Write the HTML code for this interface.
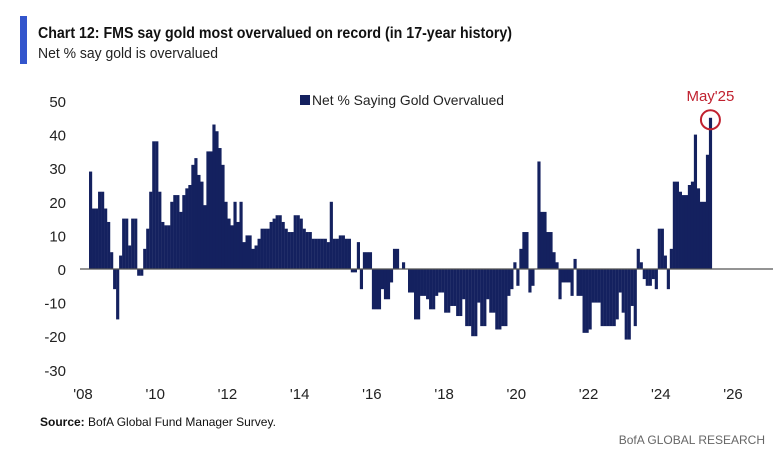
<!DOCTYPE html>
<html><head><meta charset="utf-8"><style>
html,body{margin:0;padding:0;background:#fff;}
svg{display:block;font-family:"Liberation Sans",sans-serif;}
</style></head><body>
<svg id="chart" width="783" height="452" viewBox="0 0 783 452" xmlns="http://www.w3.org/2000/svg">
<rect x="20" y="16" width="7" height="48" fill="#3355cc"/>
<text x="38" y="38" font-size="16" font-weight="bold" fill="#111" textLength="474" lengthAdjust="spacingAndGlyphs">Chart 12: FMS say gold most overvalued on record (in 17-year history)</text>
<text x="38" y="58" font-size="15" fill="#222" textLength="180" lengthAdjust="spacingAndGlyphs">Net % say gold is overvalued</text>
<rect x="300" y="95" width="10" height="10" fill="#14215f"/>
<text x="312" y="105" font-size="14" fill="#222" textLength="192" lengthAdjust="spacingAndGlyphs">Net % Saying Gold Overvalued</text>
<g id="yaxis"></g>
<g id="xaxis"></g>
<g id="bars"></g>
<line x1="80" x2="773" y1="269" y2="269" stroke="#555" stroke-width="1.3"/>
<g id="annot"></g>
<text x="40" y="426" font-size="12" fill="#111"><tspan font-weight="bold">Source:</tspan> BofA Global Fund Manager Survey.</text>
<text x="765" y="444" font-size="12" fill="#666" text-anchor="end">BofA GLOBAL RESEARCH</text>
</svg>
<script>
const values2008to2012 = [29,18,18,23,23,18,14,5,-6,-15,4,15,15,7,15,15,-2,-2,6,12,23,38,38,23,14,13,13,20,22,22,17,22,24,25,31,33,28,26,19,35,35,43,41,36,31,20,15,13,20,14,20,8,10,10,6,7];
const values2012to2015 = [9,12,12,12,14,15,16,16,14,12,11,11,16,16,15,12,11,11,9,9,9,9,9,8,20,9,9,10,10,9];
const values2015to2017 = [9,-1,-1,8,-6,5,5,5,-12,-12,-12,-6,-9,-9,-4,6,6,0,2,0,-7,-7,-15,-15,-8,-8,-9,-12,-12,-8,-7];
const values2017to2020 = [-7,-13,-13,-11,-11,-14,-14,-9,-17,-17,-20,-20,-10,-17,-17,-9,-13,-13,-18,-18,-17,-17,-8,-6,2,-5,6,11,11,-7];
const values2020to2022 = [-5,0,32,17,17,11,11,5,2,-9,-4,-4,-4,-8,3,-8,-8,-19,-19,-18,-10,-10,-10,-17,-17,-17,-17,-17,-15,-7,-13];
const values2023to2025 = [-21,-21,-11,-17,6,2,-3,-5,-5,-3,-6,12,12,4,-6,6,26,26,23,22,22,25,26,40,24,20,20,34,45];
const values = [].concat(values2008to2012, values2012to2015, values2015to2017, values2017to2020, values2020to2022, values2023to2025);
const yTicks = [50,40,30,20,10,0,-10,-20,-30];
const xTicks = ["'08","'10","'12","'14","'16","'18","'20","'22","'24","'26"];
const xTickYears = [2008,2010,2012,2014,2016,2018,2020,2022,2024,2026];
const lastMonth = 2025*12 + 4; // May 2025
const annotLabel = "May'25";

const NS = "http://www.w3.org/2000/svg";
const x0 = 83, pxMonth = 650/(18*12);
function xScale(monthIdx){ return x0 + (monthIdx - 2008*12)*pxMonth; }
function yScale(v){ return 269 - v*3.36; }
function mk(tag, attrs, parent){ const e=document.createElementNS(NS,tag); for(const k in attrs) e.setAttribute(k,attrs[k]); parent.appendChild(e); return e; }

const ya = document.getElementById('yaxis');
yTicks.forEach(t=>{
  const e = mk('text',{x:66,y:yScale(t)+6,'font-size':15,'text-anchor':'end',fill:'#222'},ya);
  
  
  e.textContent = t;
});
const xa = document.getElementById('xaxis');
xTicks.forEach((t,i)=>{
  const e = mk('text',{x:xScale(xTickYears[i]*12),y:399,'font-size':15,'text-anchor':'middle',fill:'#222'},xa);
  
  
  e.textContent = t;
});
const bg = document.getElementById('bars');
const start = lastMonth - values.length + 1;
values.forEach((v,i)=>{
  const xm = xScale(start+i) + 1.5 - pxMonth/2;
  const y1 = yScale(Math.max(v,0)), y2 = yScale(Math.min(v,0));
  const r = mk('rect',{x:xm.toFixed(2),y:y1.toFixed(2),width:(pxMonth+0.15).toFixed(2),height:Math.max(y2-y1,0.5).toFixed(2),fill:'#14215f'},bg);
  
  
});
const an = document.getElementById('annot');
const lx = xScale(lastMonth) + 1.5, ly = yScale(values[values.length-1]);
const c = mk('circle',{cx:lx,cy:ly+2,r:9.5,fill:'none',stroke:'#c0212f','stroke-width':2},an);


const at = mk('text',{x:lx,y:ly-17,'font-size':15,'text-anchor':'middle',fill:'#c0212f'},an);


at.textContent = annotLabel;
</script>
</body></html>
